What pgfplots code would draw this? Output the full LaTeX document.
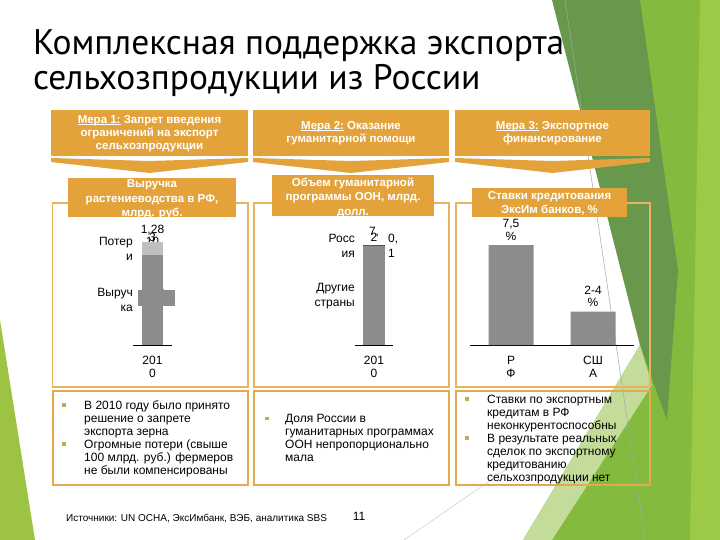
\documentclass[border=0pt]{standalone}
\usepackage{pgfplots}
\pgfplotsset{compat=1.18}
\usepackage{fontspec}
\setmainfont{Liberation Sans}
\newfontfamily\titlefont{PT Sans}
\definecolor{orng}{HTML}{E4A33A}
\definecolor{brd}{HTML}{E3A94B}
\definecolor{pbrd}{HTML}{E8B35F}
\definecolor{bgray}{HTML}{8C8C8C}
\definecolor{lgray}{HTML}{BFBFBF}
\definecolor{dgray}{HTML}{555555}
\definecolor{dgreen}{HTML}{67984C}
\definecolor{bgreen}{HTML}{84BA3D}
\definecolor{lgreen}{HTML}{9CCA46}
\definecolor{pgreen}{HTML}{C3DC9A}
\definecolor{tgreen}{HTML}{9DC343}
\definecolor{bul}{HTML}{C9A55F}
\newcommand\fs[2]{\fontsize{#1pt}{#2pt}\selectfont}
\newcommand\ul[1]{\setbox0\hbox{#1}\rlap{\rule[-1.6pt]{\wd0}{0.7pt}}\box0\relax}
\newcommand\tl[3]{\node[anchor=base west,inner sep=0pt,font=\fs{12}{13}] at (#1,-#2-4.3) {#3};}
\newcommand\bu[2]{\fill[bul] (#1-1.8,-#2-1.8) rectangle (#1+1.8,-#2+1.8);}
\tikzset{lab/.style={font=\fs{12}{15},inner sep=0pt}}
\pgfplotsset{mybar/.style={anchor=south west, scale only axis, height=132pt,
  axis x line*=bottom, axis y line=none, axis line style={-,line width=0.8pt,black},
  ytick=\empty, major tick length=0pt, xtick style={draw=none}, enlargelimits=false,
  clip mode=individual,
  xticklabel style={font=\fs{12}{13.3}, align=center, inner sep=0pt, anchor=north, yshift=-11pt}}}
\begin{document}
\begin{tikzpicture}[x=1pt,y=1pt]
\useasboundingbox (0,0) rectangle (720,-540);
\fill[white] (0,0) rectangle (720,-540);
% background shapes
\fill[tgreen] (0,-320) -- (35,-540) -- (0,-540) -- cycle;
\fill[bgreen] (630,0) -- (720,0) -- (720,-540) -- (523,-540) -- (640,-345) -- cycle;
\fill[lgreen] (700,0) -- (720,0) -- (720,-540) -- (690,-540) -- cycle;
\fill[dgreen] (552,0) -- (640,0) -- (678,-270) -- (667,-420) -- (640,-345) -- cycle;
\fill[pgreen] (640,-345) -- (523,-540) -- (552,-540) -- (652,-385) -- cycle;
\draw[gray!70, line width=0.5pt] (565,0) -- (645,-540);
\draw[gray!40, line width=0.5pt] (404,-540) -- (530,-453);
% title
\node[anchor=base west, inner sep=0pt, font=\titlefont\fs{35.5}{38}] at (33,-55) {Комплексная поддержка экспорта};
\node[anchor=base west, inner sep=0pt, font=\titlefont\fs{35.5}{38}] at (33,-90) {сельхозпродукции из России};
% measure boxes
\fill[orng] (51,-110) rectangle (248,-156);
\fill[orng] (253,-110) rectangle (449,-156);
\fill[orng] (455,-110) rectangle (650,-156);
\node[align=center, text=white, font=\bfseries\fs{11.5}{13.3}] at (149.5,-133.5) {\ul{Мера 1:} Запрет введения\\ограничений на экспорт\\сельхозпродукции};
\node[align=center, text=white, font=\bfseries\fs{11.5}{13.5}] at (351,-133) {\ul{Мера 2:} Оказание\\гуманитарной помощи};
\node[align=center, text=white, font=\bfseries\fs{11.5}{13.5}] at (552.5,-133) {\ul{Мера 3:} Экспортное\\финансирование};
% chevrons
\fill[orng] (51,-158) -- (149.5,-161) -- (248,-158) -- (248,-162) -- (149.5,-173) -- (51,-162) -- cycle;
\fill[orng] (253,-158) -- (351,-161) -- (449,-158) -- (449,-162) -- (351,-173) -- (253,-162) -- cycle;
\fill[orng] (455,-158) -- (552.5,-161) -- (650,-158) -- (650,-162) -- (552.5,-173) -- (455,-162) -- cycle;
% chart panels
\draw[pbrd, line width=1.2pt] (52.5,-203) rectangle (248,-387);
\draw[pbrd, line width=1.2pt] (254,-203) rectangle (449,-387);
\draw[pbrd, line width=1.2pt] (456,-203) rectangle (650,-387);
% subtitle boxes
\fill[orng] (68,-178) rectangle (236,-217);
\fill[orng] (272,-175) rectangle (434,-216);
\fill[orng] (472,-188) rectangle (627,-217);
\begin{scope}
\clip (68,-178) rectangle (236,-217);
\node[align=center, text=white, font=\bfseries\fs{11.5}{14.5}] at (152,-199.5) {Выручка\\растениеводства в РФ,\\млрд. руб.};
\end{scope}
\begin{scope}
\clip (272,-175) rectangle (434,-216);
\node[align=center, text=white, font=\bfseries\fs{11.5}{14.5}] at (353,-197.5) {Объем гуманитарной\\программы ООН, млрд.\\долл.};
\end{scope}
\node[align=center, text=white, font=\bfseries\fs{11.5}{14.5}] at (549.5,-203.5) {Ставки кредитования\\ЭксИм банков, \%};
% text panels
\draw[brd, line width=2.5pt] (53,-391) rectangle (248,-485);
\draw[brd, line width=2.5pt] (254,-391) rectangle (449,-485);
\draw[brd, line width=2.5pt] (456,-391) rectangle (650,-485);
\bu{64}{405}\bu{64}{444}
\tl{84}{405}{В 2010 году было принято}
\tl{84}{418}{решение о запрете}
\tl{84}{431}{экспорта зерна}
\tl{84}{444}{Огромные потери (свыше}
\tl{84}{457}{100 млрд. руб.) фермеров}
\tl{84}{470}{не были компенсированы}
\bu{267}{418.5}
\tl{285}{418.5}{Доля России в}
\tl{285}{431.5}{гуманитарных программах}
\tl{285}{444.5}{ООН непропорционально}
\tl{285}{457.5}{мала}
\bu{467}{399}\bu{467}{438}
\tl{487}{399}{Ставки по экспортным}
\tl{487}{412}{кредитам в РФ}
\tl{487}{425}{неконкурентоспособны}
\tl{487}{438}{В результате реальных}
\tl{487}{451}{сделок по экспортному}
\tl{487}{464}{кредитованию}
\tl{487}{477}{сельхозпродукции нет}
% footer
\node[anchor=west, inner sep=0pt, font=\fs{10}{12}] at (66,-518) {Источники: UN OCHA, ЭксИмбанк, ВЭБ, аналитика SBS};
\node[inner sep=0pt, font=\fs{12}{12}] at (359,-516) {11};
% chart 1
\begin{axis}[mybar, at={(133pt,-345pt)}, width=39pt, xmin=-0.5, xmax=0.5, ymin=500, ymax=1500,
  ybar stacked, bar width=21pt, xtick={0}, xticklabels={{201\\0}}]
\node[lab, anchor=base, yshift=8.5pt] at (axis cs:0,1283) {1,28};
\node[lab, anchor=base] at (axis cs:0,1283) {3};
\addplot[fill=bgray, draw=none] coordinates {(0,1180)};
\addplot[fill=lgray, draw=none] coordinates {(0,103)};
\fill[bgray] (axis cs:-0.37,795) rectangle (axis cs:0.58,917);
\node[lab, align=center] at (axis cs:0,1231.5) {10\\3};
\node[lab, align=right, anchor=east] at (axis cs:-0.5,1231.5) {Потер\\и};
\node[lab, align=center] at (axis cs:0,840) {1,18\\0};
\node[lab, align=right, anchor=east] at (axis cs:-0.5,840) {Выруч\\ка};
\end{axis}
% chart 2
\begin{axis}[mybar, at={(355pt,-345pt)}, width=38pt, xmin=-0.5, xmax=0.5, ymin=0, ymax=9.5,
  ybar stacked, bar width=22pt, xtick={0}, xticklabels={{201\\0}}]
\addplot[fill=bgray, draw=none] coordinates {(0,7.1)};
\addplot[fill=dgray, draw=none] coordinates {(0,0.1)};
\node[lab, anchor=base, yshift=9.7pt] at (axis cs:0,7.2) {7,};
\node[lab, anchor=base, yshift=3.5pt] at (axis cs:0,7.2) {2};
\node[lab, align=right, anchor=east] at (axis cs:-0.5,7.15) {Росс\\ия};
\node[lab, align=left, anchor=west, xshift=14pt] at (axis cs:0,7.15) {0,\\1};
\node[lab, align=right, anchor=east] at (axis cs:-0.5,3.55) {Другие\\страны};
\node[lab, align=center] at (axis cs:0,3.55) {7,\\1};
\end{axis}
% chart 3
\begin{axis}[mybar, at={(470pt,-345pt)}, width=164pt, xmin=-0.5, xmax=1.5, ymin=0, ymax=9.9,
  ybar, bar width=45pt, xtick={0,1}, xticklabels={{Р\\Ф},{СШ\\А}}]
\addplot[fill=bgray, draw=none] coordinates {(0,7.5) (1,2.5)};
\node[lab, anchor=base, yshift=17.5pt] at (axis cs:0,7.5) {7,5};
\node[lab, anchor=base, yshift=5pt] at (axis cs:0,7.5) {\%};
\node[lab, anchor=base, yshift=17.5pt] at (axis cs:1,2.5) {2-4};
\node[lab, anchor=base, yshift=5pt] at (axis cs:1,2.5) {\%};
\end{axis}
\end{tikzpicture}
\end{document}
